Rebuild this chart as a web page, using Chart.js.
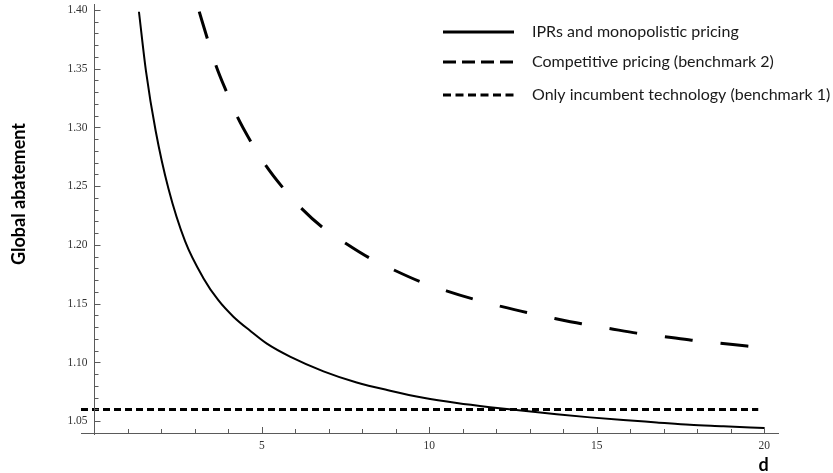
<!DOCTYPE html>
<html>
<head>
<meta charset="utf-8">
<title>Global abatement</title>
<script src="https://cdn.jsdelivr.net/npm/chart.js@4.4.1/dist/chart.umd.min.js"></script>
<style>
    html, body { margin: 0; padding: 0; background: #fff; }
    #wrap { width: 833px; height: 473px; }
</style>
</head>
<body>
<div id="wrap"><canvas id="myAbatement" width="833" height="473"></canvas></div>
<script>
// values
const iprD = [1.33, 1.54, 1.83, 2.21, 2.71, 3.25, 3.70, 4.15, 4.65, 5.15, 5.84, 6.84, 7.83, 8.83, 9.82, 10.82, 11.81, 12.81, 13.80, 14.80, 15.79, 16.79, 17.78, 18.78, 20.0];
const iprAbatement = [1.3985, 1.348, 1.297, 1.248, 1.203, 1.172, 1.153, 1.139, 1.127, 1.116, 1.105, 1.0925, 1.083, 1.076, 1.070, 1.0655, 1.062, 1.059, 1.056, 1.0533, 1.051, 1.049, 1.047, 1.0458, 1.0442];

const compD = [3.13, 3.38, 3.64, 3.95, 4.27, 4.67, 5.11, 5.62, 6.19, 6.81, 7.50, 8.21, 8.96, 9.71, 10.51, 11.31, 12.11, 12.91, 13.74, 14.54, 15.37, 16.19, 17.03, 17.83, 18.68, 19.48, 20.0];
const compAbatement = [1.3986, 1.375, 1.352, 1.330, 1.309, 1.288, 1.268, 1.249, 1.231, 1.215, 1.2015, 1.189, 1.1785, 1.169, 1.161, 1.154, 1.148, 1.1425, 1.1375, 1.133, 1.129, 1.125, 1.122, 1.119, 1.1165, 1.114, 1.1125];

const incumbentD = [-0.4, 19.82];
const incumbentAbatement = [1.06, 1.06];

const seriesLabels = ['IPRs and monopolistic pricing', 'Competitive pricing (benchmark 2)', 'Only incumbent technology (benchmark 1)'];
const xTicks = [1, 2, 3, 4, 5, 6, 7, 8, 9, 10, 11, 12, 13, 14, 15, 16, 17, 18, 19, 20];
const xTickLabels = [5, 10, 15, 20];
const yTickLabels = ['1.05', '1.10', '1.15', '1.20', '1.25', '1.30', '1.35', '1.40'];
const yTicks = Array.from({ length: 36 }, (_, i) => +(1.05 + i * 0.01).toFixed(2));

const ctx = document.getElementById('myAbatement');

function toPoints(xs, ys) {
    return xs.map((x, i) => ({ x: x, y: ys[i] }));
}

// Mathematica style: axes cross at d = 0, ticks point inward, legend sits inside the plot
const axesAndLegend = {
    id: 'axesAndLegend',
    afterDatasetsDraw(chart) {
        const c = chart.ctx;
        const area = chart.chartArea;
        const xs = chart.scales.x;
        const ys = chart.scales.y;
        const x0 = Math.round(xs.getPixelForValue(0)) + 0.5;

        c.save();
        c.strokeStyle = '#5a5a5a';
        c.lineWidth = 1;
        c.beginPath();
        c.moveTo(x0, area.top);
        c.lineTo(x0, area.bottom + 2);

        ys.ticks.forEach(t => {
            const py = Math.round(ys.getPixelForValue(t.value)) + 0.5;
            const major = yTickLabels.includes(t.value.toFixed(2));
            c.moveTo(x0, py);
            c.lineTo(x0 + (major ? 6 : 4), py);
        });

        xs.ticks.forEach(t => {
            const px = Math.round(xs.getPixelForValue(t.value)) + 0.5;
            const major = xTickLabels.includes(t.value);
            c.moveTo(px, area.bottom);
            c.lineTo(px, area.bottom - (major ? 6 : 4));
        });
        c.stroke();

        // y tick labels, right aligned just left of the d = 0 axis
        c.fillStyle = '#333';
        c.font = '11.5px "Liberation Serif"';
        c.textAlign = 'right';
        c.textBaseline = 'middle';
        yTickLabels.forEach(s => {
            c.fillText(s, x0 - 7, ys.getPixelForValue(Number(s)));
        });

        // legend
        const rowsY = [32, 62, 95];
        c.fillStyle = '#1a1a1a';
        c.font = '16px Lato';
        c.textAlign = 'left';
        chart.data.datasets.forEach((ds, i) => {
            c.strokeStyle = '#000';
            c.lineWidth = 3;
            c.setLineDash(ds.legendDash);
            c.beginPath();
            c.moveTo(443, rowsY[i]);
            c.lineTo(514, rowsY[i]);
            c.stroke();
            c.fillText(ds.label, 532, rowsY[i]);
        });
        c.setLineDash([]);

        // axis titles
        c.fillStyle = '#000';
        c.font = 'bold 18px Lato';
        c.textBaseline = 'alphabetic';
        c.textAlign = 'center';
        c.fillText('d', 763.5, 471);
        c.translate(25, 194);
        c.rotate(-Math.PI / 2);
        c.fillText('Global abatement', 0, 0);
        c.restore();
    }
};

new Chart(ctx, {
    type: 'line',
    data: {
        datasets: [{
            label: seriesLabels[0],
            data: toPoints(iprD, iprAbatement),
            borderColor: '#000',
            borderWidth: 2,
            pointRadius: 0,
            cubicInterpolationMode: 'monotone',
            legendDash: []
        }, {
            label: seriesLabels[1],
            data: toPoints(compD, compAbatement),
            borderColor: '#000',
            borderWidth: 3,
            borderDash: [28, 28],
            pointRadius: 0,
            cubicInterpolationMode: 'monotone',
            legendDash: [13, 6]
        }, {
            label: seriesLabels[2],
            data: toPoints(incumbentD, incumbentAbatement),
            borderColor: '#000',
            borderWidth: 3,
            borderDash: [7, 4],
            pointRadius: 0,
            legendDash: [8, 4.5]
        }]
    },
    options: {
        responsive: false,
        animation: false,
        layout: {
            padding: { top: 4, right: 55, left: 0, bottom: 0 }
        },
        plugins: {
            legend: { display: false },
            tooltip: { enabled: false }
        },
        scales: {
            x: {
                type: 'linear',
                min: -0.4,
                max: 20.41,
                afterBuildTicks: function (scale) {
                    scale.ticks = xTicks.map(v => ({ value: v }));
                },
                afterFit: function (scale) {
                    scale.height = 40;
                },
                border: { display: true, color: '#5a5a5a', width: 1 },
                grid: { display: false, drawTicks: false },
                ticks: {
                    autoSkip: false,
                    maxRotation: 0,
                    padding: 6,
                    color: '#333',
                    font: { family: 'Liberation Serif', size: 11.5 },
                    callback: function (value) {
                        return xTickLabels.includes(value) ? String(value) : '';
                    }
                }
            },
            y: {
                type: 'linear',
                min: 1.04,
                max: 1.4051,
                afterBuildTicks: function (scale) {
                    scale.ticks = yTicks.map(v => ({ value: v }));
                },
                afterFit: function (scale) {
                    scale.width = 81;
                },
                border: { display: false },
                grid: { display: false, drawTicks: false },
                ticks: { display: false }
            }
        }
    },
    plugins: [axesAndLegend]
});
</script>
</body>
</html>
